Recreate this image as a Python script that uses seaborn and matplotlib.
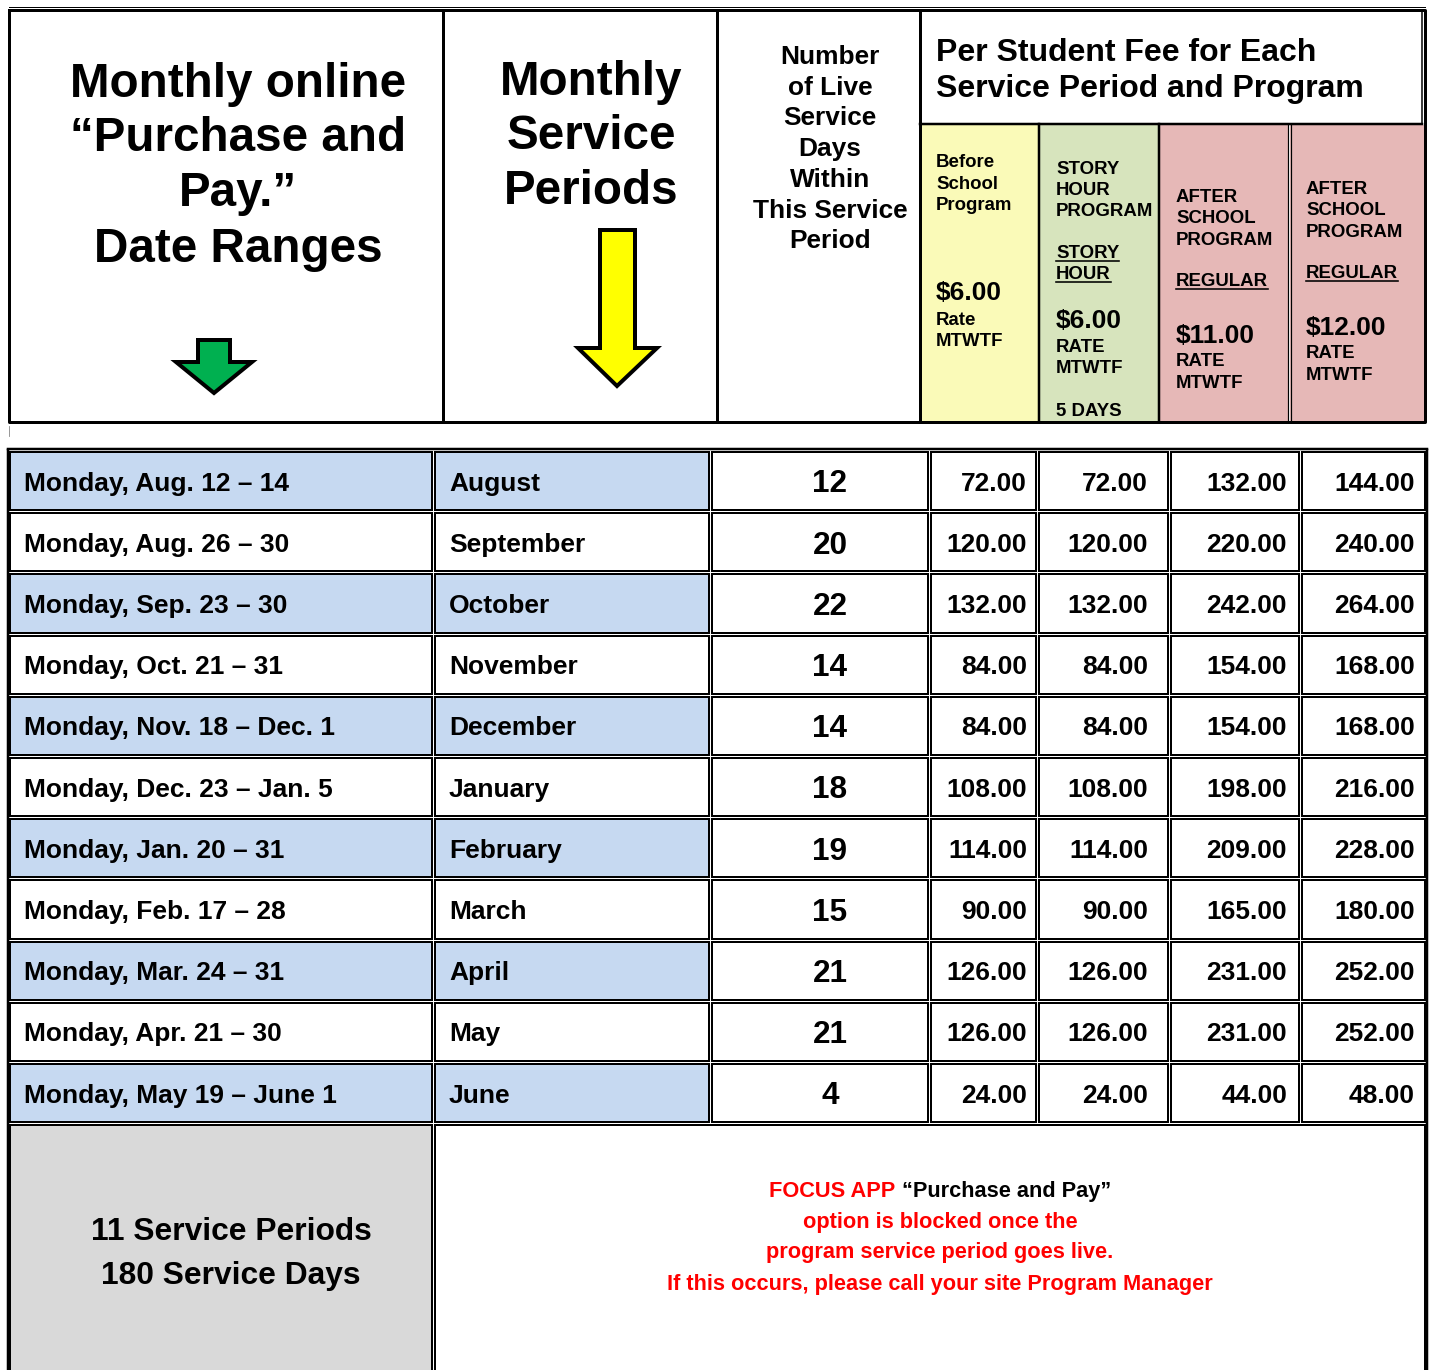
import matplotlib
matplotlib.use("Agg")
import matplotlib.pyplot as plt
import seaborn as sns
from matplotlib.patches import Rectangle, Polygon
from matplotlib import font_manager

# ---------------- data ----------------
date_ranges = ["Monday, Aug. 12 \u2013 14", "Monday, Aug. 26 \u2013 30", "Monday, Sep. 23 \u2013 30",
               "Monday, Oct. 21 \u2013 31", "Monday, Nov. 18 \u2013 Dec. 1", "Monday, Dec. 23 \u2013 Jan. 5",
               "Monday, Jan. 20 \u2013 31", "Monday, Feb. 17 \u2013 28", "Monday, Mar. 24 \u2013 31",
               "Monday, Apr. 21 \u2013 30", "Monday, May 19 \u2013 June 1"]
months = ["August", "September", "October", "November", "December", "January",
          "February", "March", "April", "May", "June"]
live_days = [12, 20, 22, 14, 14, 18, 19, 15, 21, 21, 4]
before_school_fee = [72.00, 120.00, 132.00, 84.00, 84.00, 108.00, 114.00, 90.00, 126.00, 126.00, 24.00]
story_hour_fee = [72.00, 120.00, 132.00, 84.00, 84.00, 108.00, 114.00, 90.00, 126.00, 126.00, 24.00]
after_school_11_fee = [132.00, 220.00, 242.00, 154.00, 154.00, 198.00, 209.00, 165.00, 231.00, 231.00, 44.00]
after_school_12_fee = [144.00, 240.00, 264.00, 168.00, 168.00, 216.00, 228.00, 180.00, 252.00, 252.00, 48.00]
summary_lines = ["11 Service Periods", "180 Service Days"]
note_lines = ["option is blocked once the", "program service period goes live.",
              "If this occurs, please call your site Program Manager"]
col1_header = ["Monthly online", "\u201cPurchase and", "Pay.\u201d", "Date Ranges"]
col2_header = ["Monthly", "Service", "Periods"]
col3_header = ["Number", "of Live", "Service", "Days", "Within", "This Service", "Period"]
fee_title = ["Per Student Fee for Each", "Service Period and Program"]

# ---------------- style ----------------
sns.set_theme(style="white")
avail = {f.name for f in font_manager.fontManager.ttflist}
BASE = ['Liberation Sans', 'DejaVu Sans']
HAS_NARROW = 'Liberation Sans Narrow' in avail
NARROW = ['Liberation Sans Narrow'] + BASE if HAS_NARROW else BASE
plt.rcParams['font.family'] = BASE
plt.rcParams['font.weight'] = 'bold'

PX = 0.72  # points per pixel at dpi 100
BLUE = "#C6D9F1"
GRAY = "#D9D9D9"
YELLOW = "#FAFAB8"
GREEN = "#D7E4BD"
PINK = "#E6B8B7"
RED = "#FF0000"

fig = plt.figure(figsize=(14.3, 13.7), dpi=100)
ax = fig.add_axes([0, 0, 1, 1])
ax.set_xlim(0, 1430)
ax.set_ylim(1370, 0)
ax.axis('off')


def txt(x, y, s, size, ha='left', color='black', family=BASE, **kw):
    return ax.text(x, y, s, fontsize=size, ha=ha, va='baseline', color=color,
                   family=family, fontweight='bold', **kw)


def line(xs, ys, lw_px, color='black'):
    ax.plot(xs, ys, color=color, lw=lw_px * PX, solid_capstyle='projecting')


# ---------------- header block ----------------
ax.add_patch(Rectangle((922, 125), 117, 297, facecolor=YELLOW, edgecolor='none'))
ax.add_patch(Rectangle((1040, 125), 119, 297, facecolor=GREEN, edgecolor='none'))
ax.add_patch(Rectangle((1160, 125), 129, 297, facecolor=PINK, edgecolor='none'))
ax.add_patch(Rectangle((1290, 125), 134, 297, facecolor=PINK, edgecolor='none'))

line([9, 1425], [6.5, 6.5], 1)
line([9, 1425, 1425, 9, 9], [10, 10, 422, 422, 10], 3)
for xv in (443, 717, 920):
    line([xv, xv], [10, 422], 3)
line([920, 1422], [124, 124], 2.5)
line([1422, 1422], [10, 124], 1.5)
line([1039, 1039], [124, 422], 2.5)
line([1159, 1159], [124, 422], 2.5)
line([1288, 1288], [124, 422], 1.2)
line([1291, 1291], [124, 422], 1.2)

big = 47.6 * PX
for s, yb in zip(col1_header, [97, 151, 206, 262]):
    txt(238, yb, s, big, ha='center')
for s, yb in zip(col2_header, [95, 149, 204]):
    txt(591, yb, s, big, ha='center')
for k, s in enumerate(col3_header):
    txt(830, 64 + k * 30.7, s, 26.3 * PX, ha='center')
for s, yb in zip(fee_title, [61, 97]):
    txt(936, yb, s, 32 * PX)

small = 18.6 * PX
price = 26.4 * PX


def underline(t):
    fig.canvas.draw()
    bb = t.get_window_extent().transformed(ax.transData.inverted())
    x0, x1 = bb.x0, bb.x1
    y = t.get_position()[1] + 2.5
    line([x0, x1], [y, y], 1.6)


col_texts = [
    (936, [("Before", 167, small, False), ("School", 189, small, False), ("Program", 210, small, False),
           ("$6.00", 300, price, False), ("Rate", 325, small, False), ("MTWTF", 346, small, False)]),
    (1056, [("STORY", 174, small, False), ("HOUR", 195, small, False), ("PROGRAM", 216, small, False),
            ("STORY", 258, small, True), ("HOUR", 279, small, True), ("$6.00", 328, price, False),
            ("RATE", 352, small, False), ("MTWTF", 373, small, False), ("5 DAYS", 416, small, False)]),
    (1176, [("AFTER", 202, small, False), ("SCHOOL", 223, small, False), ("PROGRAM", 245, small, False),
            ("REGULAR", 286, small, True), ("$11.00", 343, price, False), ("RATE", 366, small, False),
            ("MTWTF", 388, small, False)]),
    (1306, [("AFTER", 194, small, False), ("SCHOOL", 215, small, False), ("PROGRAM", 237, small, False),
            ("REGULAR", 278, small, True), ("$12.00", 335, price, False), ("RATE", 358, small, False),
            ("MTWTF", 380, small, False)]),
]
for x0, items in col_texts:
    for s, yb, sz, ul in items:
        t = txt(x0, yb, s, sz)
        if ul:
            underline(t)

# arrows
ax.add_patch(Polygon([(600, 230), (635, 230), (635, 348), (657, 348), (617, 386), (578, 348), (600, 348)],
                     closed=True, facecolor="#FFFF00", edgecolor='black', lw=4 * PX, joinstyle='miter'))
ax.add_patch(Polygon([(198, 340), (230, 340), (230, 362), (252, 362), (214, 393), (176, 362), (198, 362)],
                     closed=True, facecolor="#00B050", edgecolor='black', lw=4 * PX, joinstyle='miter'))

line([9, 9], [426, 436], 0.8, color='gray')

# ---------------- body table ----------------
col_edges = [8, 433, 710, 929, 1037, 1169, 1300, 1426]
top = 450.5
row_h = 61.2
n = len(months)
for i in range(n):
    y0 = top + i * row_h
    for j in range(len(col_edges) - 1):
        fc = BLUE if (j < 2 and i % 2 == 0) else 'white'
        ax.add_patch(Rectangle((col_edges[j] + 1.5, y0 + 1.5), col_edges[j + 1] - col_edges[j] - 3,
                               row_h - 3, facecolor=fc, edgecolor='black', lw=2 * PX))
    yb = y0 + row_h / 2 + 9.5
    txt(24, yb, date_ranges[i], 26.4 * PX)
    txt(449, yb, months[i], 26.4 * PX)
    txt(830, y0 + row_h / 2 + 11.3, f"{live_days[i]}", 31.5 * PX, ha='center')
    for xr, vals in zip([1027, 1148, 1287, 1415],
                        [before_school_fee, story_hour_fee, after_school_11_fee, after_school_12_fee]):
        txt(xr, yb, f"{vals[i]:.2f}", 26.4 * PX, ha='right')

ybot = top + n * row_h
ax.add_patch(Rectangle((9.5, ybot + 1.5), col_edges[1] - 8 - 3, 1380 - ybot, facecolor=GRAY,
                       edgecolor='black', lw=2 * PX))
ax.add_patch(Rectangle((col_edges[1] + 1.5, ybot + 1.5), col_edges[-1] - col_edges[1] - 3, 1380 - ybot,
                       facecolor='white', edgecolor='black', lw=2 * PX))
line([8, 8], [top - 1, 1375], 2.5)
line([1426.5, 1426.5], [top - 1, 1375], 2.5)
line([8, 1426.5], [top - 1.5, top - 1.5], 2.5)

for s, yb in zip(summary_lines, [1240, 1284]):
    txt(231, yb, s, 31.8 * PX, ha='center')

# note lines
note_size = (26.6 if HAS_NARROW else 21.8) * PX
t1 = txt(0, 1197, "FOCUS APP", note_size, color=RED, family=NARROW)
t2 = txt(0, 1197, " \u201cPurchase and Pay\u201d", note_size, color='black', family=NARROW)
fig.canvas.draw()
inv = ax.transData.inverted()
w1 = t1.get_window_extent().transformed(inv).width
w2 = t2.get_window_extent().transformed(inv).width
xs = 940 - (w1 + w2) / 2
t1.set_x(xs)
t2.set_x(xs + w1)
for s, yb in zip(note_lines, [1228, 1258, 1290]):
    txt(940, yb, s, note_size, ha='center', color=RED, family=NARROW)

fig.savefig("out.png", dpi=100)
